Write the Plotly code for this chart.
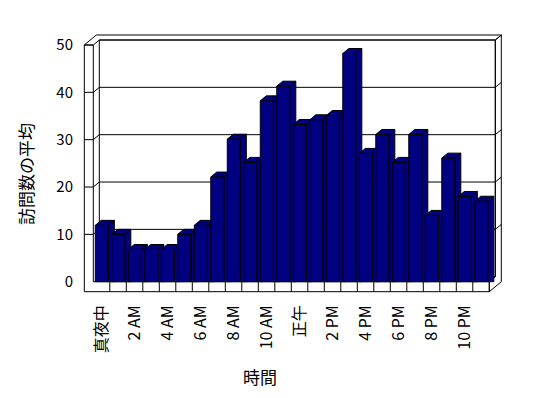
import plotly.graph_objects as go

# ---------------- data ----------------
categories = ["真夜中", "1 AM", "2 AM", "3 AM", "4 AM", "5 AM", "6 AM", "7 AM",
              "8 AM", "9 AM", "10 AM", "11 AM", "正午", "1 PM", "2 PM", "3 PM",
              "4 PM", "5 PM", "6 PM", "7 PM", "8 PM", "9 PM", "10 PM", "11 PM"]
visits = [11.9, 10.0, 6.8, 6.8, 6.8, 10.0, 11.9, 22.1, 30.1, 25.2, 38.2, 41.3,
          33.2, 34.2, 35.1, 48.2, 27.1, 31.1, 25.2, 31.1, 14.0, 26.1, 18.0, 17.0]
tick_labels = categories[::2]
y_ticks = [0, 10, 20, 30, 40, 50]
x_title = "時間"
y_title = "訪問数の平均"

# ---------------- layout constants (pixels, in window coordinates) ----------------
OFF = 8                       # default page body margin
W, H = 548 - OFF, 398 - OFF   # figure size
ML, MR, MT, MB = 83 - OFF, 46, 34 - OFF, 105 - OFF
PX_X = 16.5      # px per category
PX_Y = 4.734     # px per value unit
X0_PX = 93.3 - OFF    # pixel x of the front-left floor corner (figure coords)
Y0_PX = 281.7 - OFF   # pixel y of value 0 on the front plane (figure coords)

plot_w = W - ML - MR
plot_h = H - MT - MB
x_lo = -0.5 - (X0_PX - ML) / PX_X
x_hi = x_lo + plot_w / PX_X
y_hi = (Y0_PX - MT) / PX_Y
y_lo = y_hi - plot_h / PX_Y

DX = 6 / PX_X        # depth offset in x units
DY = 5 / PX_Y        # depth offset in y units
TL = 9 / PX_X        # left wall thickness
TF = 10 / PX_Y       # floor thickness
N = len(visits)
XL, XR = -0.5, N - 0.5
YMAX = y_ticks[-1]
BL, BR = -0.38, 0.41  # bar front face extent relative to category centre

NAVY = "#000080"
BLACK = "#000000"


def poly_trace(polys, fill=None, width=1):
    xs, ys = [], []
    for p in polys:
        for (a, b) in p:
            xs.append(a)
            ys.append(b)
        if fill:
            xs.append(p[0][0])
            ys.append(p[0][1])
        xs.append(None)
        ys.append(None)
    kw = dict(x=xs, y=ys, mode="lines", line=dict(color=BLACK, width=width),
              hoverinfo="skip", showlegend=False)
    if fill:
        kw.update(fill="toself", fillcolor=fill)
    return go.Scatter(**kw)


grid_vals = [g for g in y_ticks if 0 < g < YMAX]

# ---- walls / floor (white faces with black edges) ----
wall_fill = [
    # front face of left wall + floor slab
    [(XL - TL, -TF), (XL - TL, YMAX), (XL, YMAX), (XL, 0), (XR, 0), (XR, -TF)],
    # top of left wall + back wall
    [(XL - TL, YMAX), (XL - TL + 2 * DX, YMAX + 2 * DY), (XR + 2 * DX, YMAX + 2 * DY),
     (XR + DX, YMAX + DY), (XL + DX, YMAX + DY), (XL, YMAX)],
    # right face (floor slab + back wall thickness)
    [(XR, -TF), (XR, 0), (XR + DX, DY), (XR + DX, YMAX + DY), (XR + 2 * DX, YMAX + 2 * DY),
     (XR + 2 * DX, -TF + 2 * DY)],
    # inner back wall
    [(XL + DX, DY), (XL + DX, YMAX + DY), (XR + DX, YMAX + DY), (XR + DX, DY)],
]
wall_lines = []
for g in grid_vals:
    wall_lines.append([(XL - TL, g), (XL, g)])                       # front of left wall
    wall_lines.append([(XL, g), (XL + DX, g + DY), (XR + DX, g + DY),
                       (XR + 2 * DX, g + 2 * DY)])                    # side, back, right
for k in range(1, N):
    wall_lines.append([(XL + k, -TF), (XL + k, 0)])                  # floor front dividers

# ---- bars ----
sides, tops, fronts = [], [], []
for i, v in enumerate(visits):
    sides.append([(i + BR, 0), (i + BR, v), (i + BR + DX, v + DY), (i + BR + DX, 0)])
    tops.append([(i + BL, v), (i + BL + DX, v + DY), (i + BR + DX, v + DY), (i + BR, v)])
    fronts.append([(i + BL, 0), (i + BL, v), (i + BR, v), (i + BR, 0)])

fig = go.Figure()
fig.add_trace(poly_trace(wall_fill, fill="#ffffff"))
fig.add_trace(poly_trace(wall_lines))
fig.add_trace(poly_trace(sides, fill=NAVY))
fig.add_trace(poly_trace(tops, fill=NAVY))
fig.add_trace(poly_trace(fronts, fill=NAVY))

FONT = "Noto Sans CJK JP, Noto Sans, sans-serif"

fig.update_layout(
    width=W, height=H,
    margin=dict(l=ML, r=MR, t=MT, b=MB, pad=0),
    paper_bgcolor="#ffffff", plot_bgcolor="#ffffff",
    font=dict(family=FONT, color=BLACK, size=15),
    hovermode=False,
    xaxis=dict(range=[x_lo, x_hi], showgrid=False, zeroline=False, showline=False,
               tickmode="array", tickvals=list(range(0, N, 2)), ticktext=tick_labels,
               tickangle=-90, ticks="", tickfont=dict(size=16, family=FONT),
               automargin=False, fixedrange=True, ticklabelstandoff=0),
    yaxis=dict(range=[y_lo, y_hi], showgrid=False, zeroline=False, showline=False,
               tickmode="array", tickvals=y_ticks, ticks="",
               tickfont=dict(size=15, family=FONT),
               automargin=False, fixedrange=True, ticklabelstandoff=9),
    annotations=[
        dict(text=x_title, xref="paper", yref="paper",
             x=(260 - OFF - ML) / plot_w, y=(H - MB - (376 - OFF)) / plot_h,
             showarrow=False, font=dict(size=17, family=FONT),
             xanchor="center", yanchor="middle"),
        dict(text=y_title, xref="paper", yref="paper",
             x=(25 - OFF - ML) / plot_w, y=(H - MB - (174 - OFF)) / plot_h,
             showarrow=False, textangle=-90, font=dict(size=17, family=FONT),
             xanchor="center", yanchor="middle"),
    ],
)

fig.write_html("out.html", config={"displayModeBar": False})
